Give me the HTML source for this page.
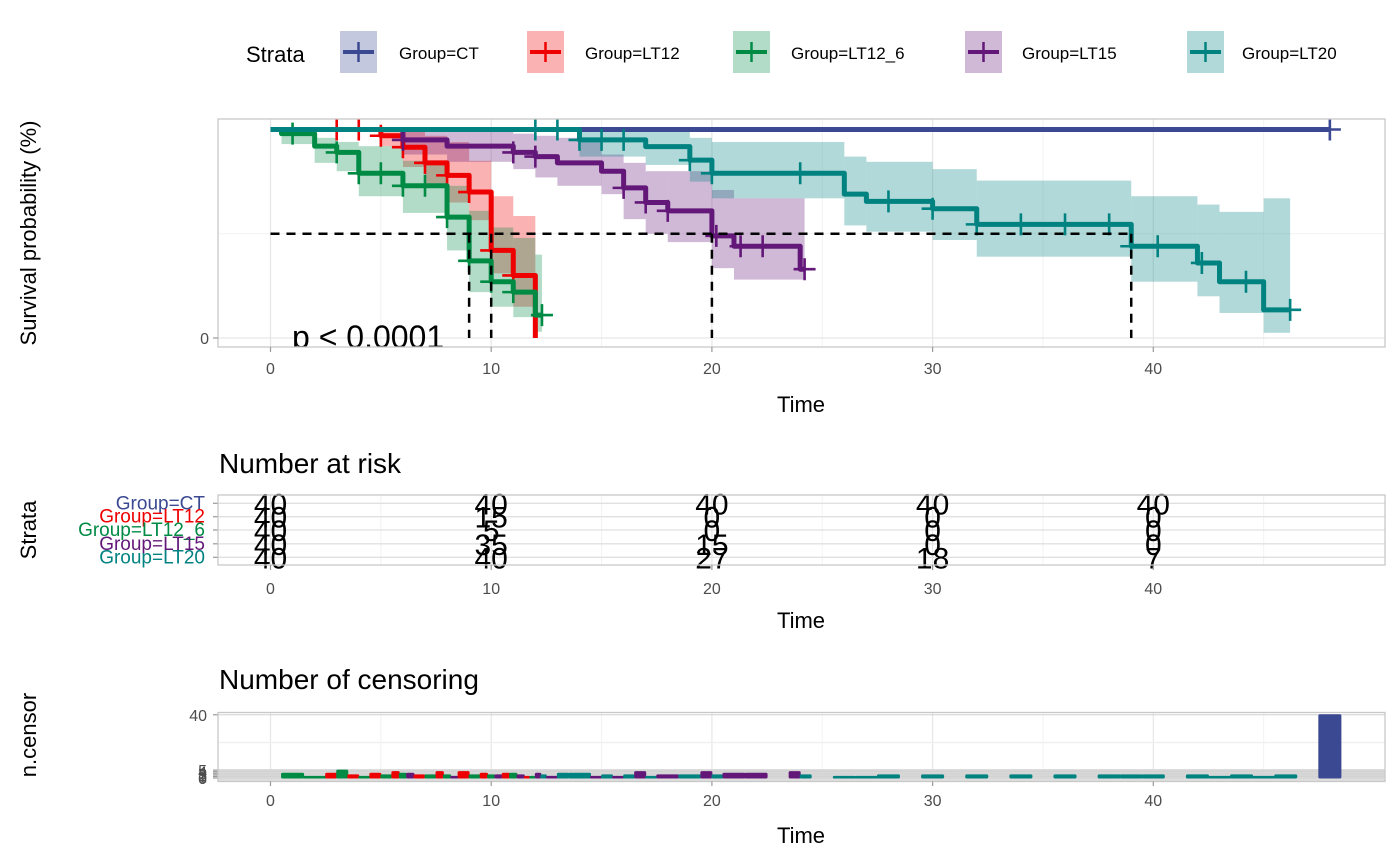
<!DOCTYPE html>
<html><head><meta charset="utf-8"><style>
html,body{margin:0;padding:0;background:#fff;}
svg{display:block;font-family:"Liberation Sans",Arial,sans-serif;}
</style></head><body>
<svg id="chart" width="1400" height="866" viewBox="0 0 1400 866" xmlns="http://www.w3.org/2000/svg">
<defs><clipPath id="mainClip"><rect x="218" y="119" width="1167" height="228"/></clipPath></defs>
<g id="legend"></g>
<g id="main"></g>
<g id="risk"></g>
<g id="cens"></g>
</svg>
<script>
const strataNames = ["Group=CT","Group=LT12","Group=LT12_6","Group=LT15","Group=LT20"];
const strataColors = ["#3B4992","#EE0000","#008B45","#631879","#008280"];
const ctTimes=[0], ctSurv=[1], ctLow=[1], ctUp=[1], ctEnd=48, ctCens=[48];
const lt12Times=[0,5,6,7,8,9,10,11,12], lt12Surv=[1,0.97,0.915,0.84,0.78,0.70,0.42,0.30,0];
const lt12Low=[1,0.92,0.82,0.73,0.65,0.565,0.31,0.15,0], lt12Up=[1,1,1,0.97,0.94,0.85,0.68,0.585,0];
const lt12End=12, lt12Cens=[3,4,5,6,7,8,9,10,11];
const lt126Times=[0,0.5,2,3,4,6,8,9,10,11,12], lt126Surv=[1,0.98,0.92,0.89,0.79,0.73,0.58,0.37,0.27,0.22,0.11];
const lt126Low=[1,0.93,0.84,0.80,0.68,0.60,0.42,0.22,0.15,0.10,0.03], lt126Up=[1,1,0.96,0.94,0.92,0.85,0.73,0.61,0.53,0.48,0.40];
const lt126End=12.3, lt126Cens=[1,3,4,5,6,7,8,9,10,11,12.3];
const lt15Times=[0,6,8,11,12,13,15,16,17,18,20,21,24], lt15Surv=[1,0.95,0.92,0.89,0.87,0.84,0.80,0.72,0.65,0.61,0.49,0.44,0.33];
const lt15Low=[1,0.88,0.845,0.81,0.77,0.73,0.69,0.57,0.50,0.46,0.335,0.28,0.28], lt15Up=[1,1,1,0.98,0.97,0.96,0.88,0.84,0.80,0.80,0.71,0.67,0.67];
const lt15End=24.2, lt15Cens=[6,11,12,16,17,18,20.2,21.3,22.3,24.2];
const lt20Times=[0,14,17,19,20,26,27,30,32,39,42,43,45], lt20Surv=[1,0.95,0.918,0.853,0.79,0.69,0.655,0.62,0.545,0.44,0.36,0.27,0.135];
const lt20Low=[1,0.87,0.83,0.75,0.67,0.54,0.51,0.47,0.39,0.27,0.20,0.12,0.025], lt20Up=[1,1,0.99,0.96,0.94,0.87,0.845,0.81,0.755,0.68,0.64,0.605,0.67];
const lt20End=46.2, lt20Cens=[12,13,14,15,16,19,20,24,28,30,32,34,36,38,39,40.2,42.2,44.2,46.2];
const medianTimes=[9,10,20,39];
const xTicks=[0,10,20,30,40];
const riskTimes=[0,10,20,30,40];
const riskCT=[40,40,40,40,40], riskLT12=[40,15,0,0,0], riskLT126=[40,5,0,0,0], riskLT15=[40,35,15,0,0], riskLT20=[40,40,27,18,7];
const censTimes=[1,2,3,3,4,4,5,5,6,6,6,7,7,8,8,8,9,9,10,10,10,11,11,11,12,12,12,12,13,13,14,15,15,16,16,17,17,18,19,20,20,21,22,24,24,26,27,28,30,32,34,36,38,39,40,42,43,44,45,46,48];
const censGroups=[2,2,1,2,1,2,1,2,1,2,3,1,2,1,2,3,1,2,1,2,3,1,2,3,1,2,3,4,3,4,4,3,4,3,4,3,4,3,4,3,4,3,3,3,4,4,4,4,4,4,4,4,4,4,4,4,4,4,4,4,0];
const censCounts=[3,1,3,5,2,1,3,2,4,3,3,2,2,4,2,1,4,2,3,2,2,3,3,2,1,1,3,2,1,3,3,1,2,1,2,4,1,2,2,4,2,3,3,4,2,1,1,2,2,2,2,2,2,2,2,2,1,2,1,2,40];
const censYTicks=[0,1,2,3,4,5,40];

const NS="http://www.w3.org/2000/svg";
function mk(tag,attrs,parent){const e=document.createElementNS(NS,tag);for(const k in attrs)e.setAttribute(k,attrs[k]);parent.appendChild(e);return e;}
const X=t=>270.5+22.07*t;
const Y=s=>338-208.5*s;
const PL=218, PR=1385;

const lg=document.getElementById('legend');
let t0=mk('text',{x:246,y:62,'font-size':22,fill:'#000'},lg);t0.textContent='Strata';

const keyX=[340,527,733,965,1187], labX=[399,585,791,1022,1242];
strataNames.forEach((n,i)=>{
  const g=mk('g',{},lg);
  
  
  mk('rect',{x:keyX[i],y:31,width:37,height:42,fill:strataColors[i],'fill-opacity':0.3},g);
  mk('line',{x1:keyX[i]+3,x2:keyX[i]+34,y1:52,y2:52,stroke:strataColors[i],'stroke-width':4},g);
  mk('line',{x1:keyX[i]+18.5,x2:keyX[i]+18.5,y1:42,y2:62,stroke:strataColors[i],'stroke-width':2.5},g);
  const t=mk('text',{x:labX[i],y:59,'font-size':17,fill:'#000'},g);t.textContent=n;
});

const mg=document.getElementById('main');
mk('rect',{x:PL,y:119,width:PR-PL,height:228,fill:'#fff'},mg);
for(let t=5;t<=45;t+=10)mk('line',{x1:X(t),x2:X(t),y1:119,y2:347,stroke:'#f2f2f2','stroke-width':1},mg);
xTicks.forEach(t=>mk('line',{x1:X(t),x2:X(t),y1:119,y2:347,stroke:'#e6e6e6','stroke-width':1.2},mg));
mk('line',{x1:PL,x2:PR,y1:Y(0),y2:Y(0),stroke:'#e6e6e6','stroke-width':1.2},mg);
mk('line',{x1:PL,x2:PR,y1:Y(0.5),y2:Y(0.5),stroke:'#f2f2f2','stroke-width':1},mg);

const curves=[
 {times:ctTimes,surv:ctSurv,low:ctLow,up:ctUp,end:ctEnd,cens:ctCens},
 {times:lt12Times,surv:lt12Surv,low:lt12Low,up:lt12Up,end:lt12End,cens:lt12Cens},
 {times:lt126Times,surv:lt126Surv,low:lt126Low,up:lt126Up,end:lt126End,cens:lt126Cens},
 {times:lt15Times,surv:lt15Surv,low:lt15Low,up:lt15Up,end:lt15End,cens:lt15Cens},
 {times:lt20Times,surv:lt20Surv,low:lt20Low,up:lt20Up,end:lt20End,cens:lt20Cens}
];
function survAt(c,t){let s=c.surv[0];for(let i=0;i<c.times.length;i++){if(c.times[i]<=t+1e-9)s=c.surv[i];}return s;}
const clipG=mk('g',{'clip-path':'url(#mainClip)'},mg);
curves.forEach((c,gi)=>{
  for(let i=0;i<c.times.length;i++){
    const a=c.times[i], b=(i+1<c.times.length)?c.times[i+1]:c.end;
    if(b<=a||c.up[i]<=c.low[i])continue;
    const r=mk('rect',{x:X(a),y:Y(c.up[i]),width:X(b)-X(a),height:Y(c.low[i])-Y(c.up[i]),fill:strataColors[gi],'fill-opacity':0.3},clipG);
    
    
  }
});
curves.forEach((c,gi)=>{
  let d='M'+X(c.times[0])+','+Y(c.surv[0]);
  for(let i=1;i<c.times.length;i++){d+=' H'+X(c.times[i])+' V'+Y(c.surv[i]);}
  d+=' H'+X(c.end);
  const p=mk('path',{d:d,fill:'none',stroke:strataColors[gi],'stroke-width':5,'stroke-linejoin':'round'},clipG);
  
  
  c.cens.forEach(t=>{
    const y=Y(survAt(c,t)), x=X(t);
    const m=mk('path',{d:'M'+(x-11)+','+y+' H'+(x+11)+' M'+x+','+(y-11)+' V'+(y+11),stroke:strataColors[gi],'stroke-width':2.6},clipG);
    
    
  });
});
const maxMed=Math.max(...medianTimes);
let ml=mk('line',{x1:X(0),x2:X(maxMed),y1:Y(0.5),y2:Y(0.5),stroke:'#000','stroke-width':2.5,'stroke-dasharray':'9,7'},clipG);

medianTimes.forEach(t=>{
  const v=mk('line',{x1:X(t),x2:X(t),y1:Y(0.5),y2:Y(0),stroke:'#000','stroke-width':2.5,'stroke-dasharray':'9,7'},clipG);
  
});
let pv=mk('text',{x:292,y:348,'font-size':32,fill:'#000'},clipG);pv.textContent='p < 0.0001';

mk('rect',{x:PL,y:119,width:PR-PL,height:228,fill:'none',stroke:'#c8c8c8','stroke-width':1.3},mg);
xTicks.forEach(t=>{
  mk('line',{x1:X(t),x2:X(t),y1:347,y2:352,stroke:'#999','stroke-width':1.2},mg);
  const tx=mk('text',{x:X(t),y:374,'font-size':16,fill:'#4d4d4d','text-anchor':'middle'},mg);tx.textContent=t;
});
mk('line',{x1:213,x2:218,y1:Y(0),y2:Y(0),stroke:'#999','stroke-width':1.2},mg);
let y0=mk('text',{x:209,y:Y(0)+6,'font-size':16,fill:'#4d4d4d','text-anchor':'end'},mg);y0.textContent='0';
let xt=mk('text',{x:801,y:412,'font-size':22,fill:'#000','text-anchor':'middle'},mg);xt.textContent='Time';

let yt=mk('text',{x:0,y:0,'font-size':22,fill:'#000','text-anchor':'middle',transform:'translate(36,233) rotate(-90)'},mg);yt.textContent='Survival probability (%)';


const rg=document.getElementById('risk');
let rt=mk('text',{x:219,y:473,'font-size':28,fill:'#000'},rg);rt.textContent='Number at risk';

mk('rect',{x:PL,y:495,width:PR-PL,height:70,fill:'#fff'},rg);
const rowY=[503.3,516.7,530,543.8,557.3];
for(let t=5;t<=45;t+=10)mk('line',{x1:X(t),x2:X(t),y1:495,y2:565,stroke:'#f2f2f2','stroke-width':1},rg);
xTicks.forEach(t=>mk('line',{x1:X(t),x2:X(t),y1:495,y2:565,stroke:'#e6e6e6','stroke-width':1.2},rg));
rowY.forEach(y=>mk('line',{x1:PL,x2:PR,y1:y,y2:y,stroke:'#e0e0e0','stroke-width':1.3},rg));
const riskRows=[riskCT,riskLT12,riskLT126,riskLT15,riskLT20];
riskRows.forEach((row,gi)=>{
  row.forEach((v,j)=>{
    const t=mk('text',{x:X(riskTimes[j]),y:rowY[gi]+11,'font-size':30,fill:'#000','text-anchor':'middle'},rg);
    t.textContent=v;
    
    
  });
  const l=mk('text',{x:205,y:rowY[gi]+6,'font-size':19,fill:strataColors[gi],'text-anchor':'end'},rg);
  l.textContent=strataNames[gi];
  
  
  mk('line',{x1:213,x2:218,y1:rowY[gi],y2:rowY[gi],stroke:'#999','stroke-width':1.2},rg);
});
mk('rect',{x:PL,y:495,width:PR-PL,height:70,fill:'none',stroke:'#c8c8c8','stroke-width':1.3},rg);
xTicks.forEach(t=>{
  mk('line',{x1:X(t),x2:X(t),y1:565,y2:570,stroke:'#999','stroke-width':1.2},rg);
  const tx=mk('text',{x:X(t),y:594,'font-size':16,fill:'#4d4d4d','text-anchor':'middle'},rg);tx.textContent=t;
});
let rx=mk('text',{x:801,y:628,'font-size':22,fill:'#000','text-anchor':'middle'},rg);rx.textContent='Time';
let ry=mk('text',{x:0,y:0,'font-size':22,fill:'#000','text-anchor':'middle',transform:'translate(36,530) rotate(-90)'},rg);ry.textContent='Strata';

const cg=document.getElementById('cens');
const CY=n=>778-1.58*n;
let ct=mk('text',{x:219,y:689,'font-size':28,fill:'#000'},cg);ct.textContent='Number of censoring';

mk('rect',{x:PL,y:712.5,width:PR-PL,height:69,fill:'#fff'},cg);
for(let t=5;t<=45;t+=10)mk('line',{x1:X(t),x2:X(t),y1:712.5,y2:781.5,stroke:'#f2f2f2','stroke-width':1},cg);
xTicks.forEach(t=>mk('line',{x1:X(t),x2:X(t),y1:712.5,y2:781.5,stroke:'#e6e6e6','stroke-width':1.2},cg));
mk('line',{x1:PL,x2:PR,y1:CY(22.5),y2:CY(22.5),stroke:'#f0f0f0','stroke-width':1.5},cg);
mk('rect',{x:PL,y:CY(5)-1,width:PR-PL,height:CY(0)-CY(5)+4,fill:'#dedede'},cg);
censYTicks.forEach(v=>{
  mk('line',{x1:PL,x2:PR,y1:CY(v),y2:CY(v),stroke:'#d0d0d0','stroke-width':1},cg);
  mk('line',{x1:213,x2:218,y1:CY(v),y2:CY(v),stroke:'#999','stroke-width':1.2},cg);
  const tx=mk('text',{x:207,y:CY(v)+6,'font-size':16,fill:'#4d4d4d','text-anchor':'end'},cg);tx.textContent=v;
});
const byTime={};
censTimes.forEach((t,i)=>{(byTime[t]=byTime[t]||[]).push(i);});
Object.keys(byTime).forEach(k=>{
  const idx=byTime[k], w=1/idx.length;
  idx.forEach((i,j)=>{
    const t=censTimes[i];
    const x0=X(t-0.5+j*w), x1=X(t-0.5+(j+1)*w);
    const b=mk('rect',{x:x0,y:CY(censCounts[i]),width:x1-x0,height:CY(0)-CY(censCounts[i]),fill:strataColors[censGroups[i]],stroke:strataColors[censGroups[i]],'stroke-width':1,rx:1},cg);
    
    
  });
});
mk('rect',{x:PL,y:712.5,width:PR-PL,height:69,fill:'none',stroke:'#c8c8c8','stroke-width':1.3},cg);
xTicks.forEach(t=>{
  mk('line',{x1:X(t),x2:X(t),y1:781.5,y2:786,stroke:'#999','stroke-width':1.2},cg);
  const tx=mk('text',{x:X(t),y:806,'font-size':16,fill:'#4d4d4d','text-anchor':'middle'},cg);tx.textContent=t;
});
let cx=mk('text',{x:801,y:843,'font-size':22,fill:'#000','text-anchor':'middle'},cg);cx.textContent='Time';
let cy=mk('text',{x:0,y:0,'font-size':22,fill:'#000','text-anchor':'middle',transform:'translate(36,735) rotate(-90)'},cg);cy.textContent='n.censor';
</script>
</body></html>
